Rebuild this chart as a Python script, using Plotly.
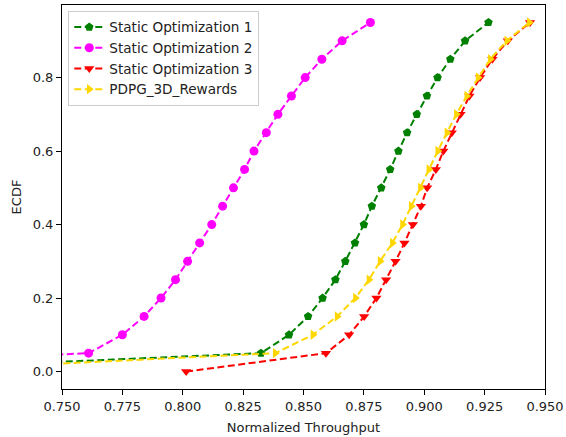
import plotly.graph_objects as go

ecdf_levels = [0.00, 0.05, 0.10, 0.15, 0.20, 0.25, 0.30, 0.35, 0.40, 0.45,
               0.50, 0.55, 0.60, 0.65, 0.70, 0.75, 0.80, 0.85, 0.90, 0.95]

static_opt_1 = [0.656, 0.8324, 0.844, 0.8519, 0.8579, 0.8632, 0.8673, 0.8713, 0.875, 0.8783,
                0.8822, 0.8859, 0.8893, 0.8929, 0.8969, 0.9011, 0.9055, 0.9108, 0.9169, 0.9266]
static_opt_2 = [0.600, 0.761, 0.775, 0.784, 0.791, 0.797, 0.802, 0.807, 0.812, 0.8165,
                0.821, 0.8256, 0.8295, 0.8346, 0.8394, 0.845, 0.8507, 0.8576, 0.866, 0.8777]
static_opt_3 = [0.8014, 0.8593, 0.8689, 0.8751, 0.8802, 0.8842, 0.8881, 0.8918, 0.8953, 0.8986,
                0.9012, 0.9048, 0.9079, 0.9114, 0.915, 0.9187, 0.9231, 0.9282, 0.9346, 0.9438]
pdpg_3d = [0.681, 0.8383, 0.8539, 0.8639, 0.8715, 0.8771, 0.8817, 0.8868, 0.891, 0.8946,
           0.8984, 0.9019, 0.9056, 0.9094, 0.9133, 0.9176, 0.9223, 0.9273, 0.9342, 0.9435]

x_ticks = [0.750, 0.775, 0.800, 0.825, 0.850, 0.875, 0.900, 0.925, 0.950]
y_ticks = [0.0, 0.2, 0.4, 0.6, 0.8]

series = [
    ("Static Optimization 1", static_opt_1, "green", "pentagon", 9),
    ("Static Optimization 2", static_opt_2, "#ff00ff", "circle", 9),
    ("Static Optimization 3", static_opt_3, "#ff0000", "triangle-down", 9),
    ("PDPG_3D_Rewards", pdpg_3d, "#ffd700", "triangle-right", 9),
]

fig = go.Figure()
for name, xs, color, sym, size in series:
    fig.add_trace(go.Scatter(
        x=xs, y=ecdf_levels, name=name, mode="lines+markers",
        line=dict(color=color, width=2, dash="7px,3.5px"),
        marker=dict(color=color, symbol=sym, size=size),
    ))

font = dict(family="DejaVu Sans", size=13, color="#222222")
fig.update_layout(
    width=566, height=437,
    margin=dict(l=62, r=21, t=5, b=48),
    paper_bgcolor="white", plot_bgcolor="white",
    font=font,
    showlegend=True,
    legend=dict(x=0.013, y=0.985, xanchor="left", yanchor="top",
                bgcolor="rgba(255,255,255,0.85)", bordercolor="#cccccc", borderwidth=1,
                font=dict(family="DejaVu Sans", size=13.6, color="#222222"),
                itemwidth=30, tracegroupgap=0),
)
fig.update_xaxes(
    range=[0.75, 0.95], tickvals=x_ticks, tickformat=".3f", automargin=False,
    showline=True, linecolor="black", linewidth=1, mirror=True,
    ticks="outside", ticklen=5, tickcolor="black", showgrid=False, zeroline=False,
    title=dict(text="Normalized Throughput", standoff=10, font=font),
)
fig.update_yaxes(
    range=[-0.0475, 0.9975], tickvals=y_ticks, tickformat=".1f", automargin=False,
    showline=True, linecolor="black", linewidth=1, mirror=True,
    ticks="outside", ticklen=5, tickcolor="black", showgrid=False, zeroline=False,
    title=dict(text="ECDF", standoff=8, font=font),
)

fig.write_html("out.html", config={"displayModeBar": False},
               post_script="document.body.style.margin='0px';")
